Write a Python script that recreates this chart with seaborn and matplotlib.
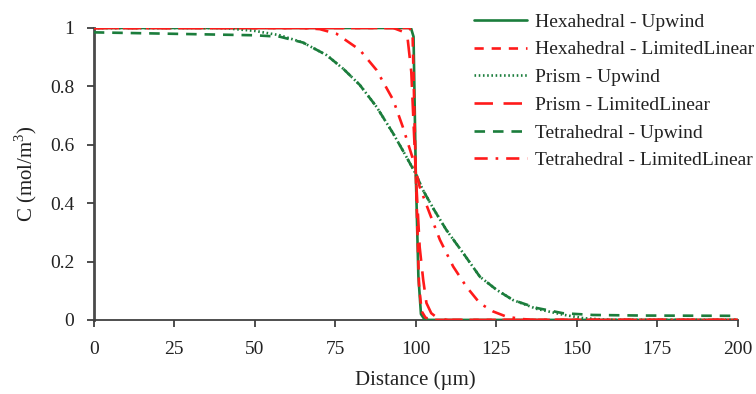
import numpy as np
import pandas as pd
import matplotlib
matplotlib.use("Agg")
import matplotlib.pyplot as plt
import seaborn as sns

# Concentration profiles along the channel (distance in µm, C in mol/m3)
hex_up_x = [0, 50, 98.5, 99.3, 100, 100.8, 101.6, 102.5, 104, 200]
hex_up_c = [1.0, 1.0, 1.0, 0.97, 0.5, 0.15, 0.02, 0.005, 0.0, 0.0]

hex_ll_x = [0, 50, 98, 99, 100, 101, 101.8, 103, 105, 200]
hex_ll_c = [1.0, 1.0, 1.0, 0.98, 0.5, 0.12, 0.03, 0.008, 0.0, 0.0]

prism_up_x = [0, 40, 50, 57.8, 65, 72.3, 77.5, 82.6, 87.8, 92.9, 96.5, 100, 102.2,
              105.8, 109.5, 114.7, 119.9, 125.1, 130.2, 137.5, 145.7, 152, 160, 200]
prism_up_c = [1.0, 1.0, 0.99, 0.975, 0.95, 0.907, 0.86, 0.805, 0.73, 0.64, 0.57, 0.5, 0.445,
              0.375, 0.308, 0.229, 0.148, 0.103, 0.068, 0.038, 0.018, 0.006, 0.0, 0.0]

prism_ll_x = [0, 93, 96.1, 97.5, 98.6, 100, 101.2, 102.3, 103.3, 104.8, 106.8, 110, 200]
prism_ll_c = [1.0, 1.0, 0.987, 0.96, 0.85, 0.5, 0.25, 0.137, 0.058, 0.023, 0.006, 0.0, 0.0]

tet_up_x = [0, 25, 50, 57.8, 65, 72.3, 77.5, 82.6, 87.8, 92.9, 96.5, 100, 102.2,
            105.8, 109.5, 114.7, 119.9, 125.1, 130.2, 137.5, 145.7, 155, 170, 200]
tet_up_c = [0.985, 0.98, 0.975, 0.97, 0.95, 0.907, 0.86, 0.805, 0.73, 0.64, 0.57, 0.5, 0.445,
            0.375, 0.308, 0.229, 0.148, 0.103, 0.068, 0.041, 0.023, 0.017, 0.015, 0.014]

tet_ll_x = [0, 65, 70.2, 75.4, 82.6, 87.8, 93, 96, 99.2, 101.2, 104.3, 107.5, 111.6,
            115.7, 119.9, 124, 128.2, 133, 137, 200]
tet_ll_c = [1.0, 1.0, 0.996, 0.98, 0.925, 0.856, 0.753, 0.66, 0.548, 0.456, 0.365, 0.274, 0.183,
            0.114, 0.057, 0.029, 0.011, 0.003, 0.0, 0.0]

labels = ["Hexahedral - Upwind", "Hexahedral - LimitedLinear", "Prism - Upwind",
          "Prism - LimitedLinear", "Tetrahedral - Upwind", "Tetrahedral - LimitedLinear"]

x_ticks = [0, 25, 50, 75, 100, 125, 150, 175, 200]
y_ticks = [0, 0.2, 0.4, 0.6, 0.8, 1.0]
y_tick_labels = ["0", "0.2", "0.4", "0.6", "0.8", "1"]

GREEN = "#1b7d3c"
RED = "#ff1a1a"

series = [
    (hex_up_x, hex_up_c, GREEN, "-"),
    (hex_ll_x, hex_ll_c, RED, (0, (3.5, 3))),
    (prism_up_x, prism_up_c, GREEN, (0, (0.6, 1.0))),
    (prism_ll_x, prism_ll_c, RED, (0, (7, 4))),
    (tet_up_x, tet_up_c, GREEN, (0, (4, 3))),
    (tet_ll_x, tet_ll_c, RED, (0, (5, 3, 1, 3))),
]

sns.set_style("white")
plt.rcParams["font.family"] = ["Liberation Serif", "DejaVu Serif"]
plt.rcParams["mathtext.fontset"] = "custom"
plt.rcParams["mathtext.rm"] = "Liberation Serif"

TEXT = "#222222"

fig = plt.figure(figsize=(7.56, 3.94), dpi=100)
ax = fig.add_axes([0.124, 0.188, 0.852, 0.741])

for (xs, cs, col, ls), lab in zip(series, labels):
    df = pd.DataFrame({"Distance": xs, "C": cs})
    sns.lineplot(data=df, x="Distance", y="C", ax=ax, color=col, linestyle=ls,
                 linewidth=1.9, label=lab, sort=False)

ax.set_xlim(0, 200)
ax.set_ylim(0, 1)
ax.set_xticks(x_ticks)
ax.set_xticklabels([str(t) for t in x_ticks])
ax.set_yticks(y_ticks)
ax.set_yticklabels(y_tick_labels)
ax.tick_params(axis="both", direction="out", length=5, width=1.3, color="#404040",
               labelsize=14, labelcolor=TEXT, bottom=True, left=True)
ax.tick_params(axis="y", pad=9)
ax.tick_params(axis="x", pad=10)
for side in ["top", "right"]:
    ax.spines[side].set_visible(False)
ax.spines["left"].set_color("#4a4a4a")
ax.spines["left"].set_linewidth(2.0)
ax.spines["bottom"].set_color("#404040")
ax.spines["bottom"].set_linewidth(1.3)
for s in ax.spines.values():
    s.set_zorder(0.5)

ax.set_xlabel("Distance (µm)", fontsize=15, color=TEXT, labelpad=9)
ax.set_ylabel("C (mol/m$^3$)", fontsize=15, color=TEXT, labelpad=8)

leg = ax.legend(loc="upper left", bbox_to_anchor=(0.627, 0.967), bbox_transform=fig.transFigure,
                frameon=False, fontsize=14, handlelength=2.75, handletextpad=0.4,
                labelspacing=0.52, borderaxespad=0, borderpad=0)
for t in leg.get_texts():
    t.set_color(TEXT)

fig.savefig("out.png", dpi=100)
